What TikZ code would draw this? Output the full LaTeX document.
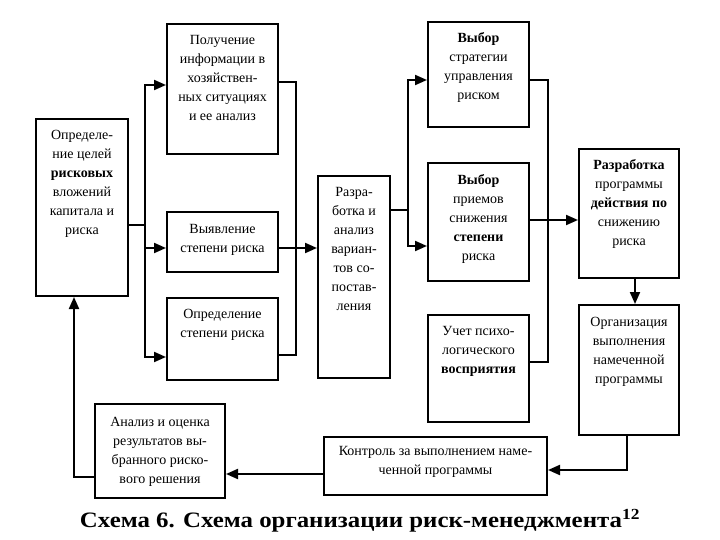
\documentclass[tikz,border=0pt]{standalone}
\usepackage{fontspec}
\usepackage{graphicx}
\setmainfont{Liberation Serif}
\usetikzlibrary{arrows.meta,positioning,calc}

\begin{document}
\begin{tikzpicture}[x=1pt, y=-1pt,
    box/.style={draw, line width=2pt, inner sep=0pt},
    txt/.style={align=center, inner sep=0pt, font=\fontsize{14}{19}\selectfont},
    wire/.style={line width=2pt},
    arr/.style={line width=2pt, -{Triangle[length=12pt, width=10pt]}}]
    \useasboundingbox (0,0) rectangle (720,540);

    \node[box, minimum width=92pt, minimum height=177pt] (goal) at (82,207.5) {};
    \node[box, minimum width=111pt, minimum height=130pt] (info) at (222.5,89) {};
    \node[box, minimum width=111pt, minimum height=60pt] (detect) at (222.5,242) {};
    \node[box, minimum width=111pt, minimum height=82pt] (degree) at (222.5,339) {};
    \node[box, minimum width=72pt, minimum height=202pt] (dev) at (354,277) {};
    \node[box, minimum width=101pt, minimum height=105pt] (strat) at (478.5,74.5) {};
    \node[box, minimum width=101pt, minimum height=118pt] (meth) at (478.5,222) {};
    \node[box, minimum width=101pt, minimum height=107pt] (psy) at (478.5,368.5) {};
    \node[box, minimum width=100pt, minimum height=129pt] (prog) at (629,213.5) {};
    \node[box, minimum width=100pt, minimum height=130pt] (org) at (629,370) {};
    \node[box, minimum width=223pt, minimum height=58pt] (ctrl) at (435.5,466) {};
    \node[box, minimum width=130pt, minimum height=94pt] (eval) at (160,451) {};

    \node[txt, below=12pt of goal.north] (goal-t) {Определе-\\ние целей\\\textbf{рисковых}\\вложений\\капитала и\\риска};
    \node[txt, below=12pt of info.north] (info-t) {Получение\\информации в\\хозяйствен-\\ных ситуациях\\и ее анализ};
    \node[txt, below=13pt of detect.north] (detect-t) {Выявление\\степени риска};
    \node[txt, below=12pt of degree.north] (degree-t) {Определение\\степени риска};
    \node[txt, below=12pt of dev.north] (dev-t) {Разра-\\ботка и\\анализ\\вариан-\\тов со-\\постав-\\ления};
    \node[txt, below=11pt of strat.north] (strat-t) {\textbf{Выбор}\\стратегии\\управления\\риском};
    \node[txt, below=12pt of meth.north] (meth-t) {\textbf{Выбор}\\приемов\\снижения\\\textbf{степени}\\риска};
    \node[txt, below=12pt of psy.north] (psy-t) {Учет психо-\\логического\\\textbf{восприятия}};
    \node[txt, below=11pt of prog.north] (prog-t) {\textbf{Разработка}\\программы\\\textbf{действия по}\\снижению\\риска};
    \node[txt, below=13pt of org.north] (org-t) {Организация\\выполнения\\намеченной\\программы};
    \node[txt, below=10pt of ctrl.north] (ctrl-t) {Контроль за выполнением наме-\\ченной программы};
    \node[txt, below=14pt of eval.north] (eval-t) {Анализ и оценка\\результатов вы-\\бранного риско-\\вого решения};

    \coordinate (lbus) at (145,225);
    \coordinate (rbus) at (296,248);
    \coordinate (mbus) at (408,210);
    \coordinate (fbus) at (548,220);

    \draw[wire] ([yshift=-17.5pt]goal.east) -- (lbus);
    \draw[arr] (lbus) |- ([yshift=4pt]info.west);
    \draw[arr] (lbus) |- ([yshift=-6pt]detect.west);
    \draw[arr] (lbus) |- ([yshift=-18pt]degree.west);

    \draw[wire] ([yshift=7pt]info.east) -| (rbus);
    \draw[wire] ([yshift=-16pt]degree.east) -| (rbus);
    \draw[arr] ([yshift=-6pt]detect.east) -- ([yshift=-6pt]detect.east -| dev.west);

    \draw[wire] ([yshift=67pt]dev.east) -- (mbus);
    \draw[arr] (mbus) |- ([yshift=-5.5pt]strat.west);
    \draw[arr] (mbus) |- ([yshift=-24pt]meth.west);

    \draw[wire] ([yshift=-5.5pt]strat.east) -| (fbus);
    \draw[wire] ([yshift=6.5pt]psy.east) -| (fbus);
    \draw[arr] ([yshift=2pt]meth.east) -- ([yshift=2pt]meth.east -| prog.west);

    \draw[arr] ([xshift=6pt]prog.south) -- ([xshift=6pt]prog.south |- org.north);
    \draw[arr] ([xshift=-2pt]org.south) |- ([yshift=-4pt]ctrl.east);
    \draw[arr] ([yshift=-8pt]ctrl.west) -- ([yshift=-8pt]ctrl.west -| eval.east);
    \draw[arr] ([yshift=-26pt]eval.west) -| ([xshift=-8pt]goal.south);

    \node[anchor=base, inner sep=0pt, font=\fontsize{22}{26}\selectfont\bfseries] (caption) at (360,527)
      {\resizebox{560pt}{\height}{Схема 6. Схема организации риск-менеджмента\textsuperscript{12}}};
  \end{tikzpicture}
\end{document}
